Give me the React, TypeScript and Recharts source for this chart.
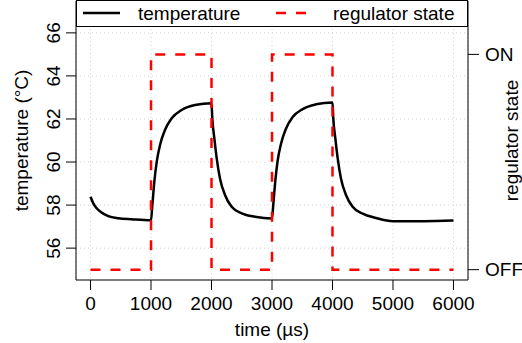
import React from "react";
import {
  ComposedChart,
  Line,
  XAxis,
  YAxis,
  CartesianGrid,
} from "recharts";

const FONT = "'Liberation Sans', Arial, Helvetica, sans-serif";
const FS = 19;

// temperature series (time in µs, temperature in °C)
const tempTimes = [
  0, 46, 102, 185, 294, 460, 680, 1000,
  1022, 1055, 1094, 1149, 1231, 1342, 1507, 1727, 2000,
  2013, 2047, 2086, 2140, 2223, 2333, 2499, 2719, 3000,
  3022, 3055, 3094, 3149, 3231, 3342, 3507, 3727, 4000,
  4013, 4047, 4086, 4140, 4223, 4333, 4499, 4719, 5000, 5500, 6000,
];
const tempValues = [
  58.39, 58.08, 57.85, 57.65, 57.49, 57.39, 57.34, 57.29,
  58.0, 59.09, 60.01, 60.79, 61.49, 62.03, 62.42, 62.65, 62.73,
  62.03, 61.1, 60.17, 59.24, 58.47, 57.92, 57.62, 57.46, 57.38,
  58.05, 59.14, 60.07, 60.85, 61.55, 62.09, 62.46, 62.68, 62.77,
  62.03, 61.1, 60.17, 59.24, 58.47, 57.92, 57.6, 57.4, 57.25, 57.25, 57.28,
];

// regulator state (0 = OFF, 1 = ON), step function
const regTimes = [0, 1000, 2000, 3000, 4000, 6000];
const regStates = [0, 1, 0, 1, 0, 0];

const xTicks = [0, 1000, 2000, 3000, 4000, 5000, 6000];
const yTicks = [56, 58, 60, 62, 64, 66];
const regTicks = [0, 1];
const regLabels = ["OFF", "ON"];

const xDomain: [number, number] = [-240, 6240];
const yDomain: [number, number] = [54.52, 67.48];
// regulator axis aligned so OFF sits at 55 °C and ON at 65 °C
const regDomain: [number, number] = [
  (yDomain[0] - 55) / 10,
  (yDomain[1] - 55) / 10,
];

const tempData = tempTimes.map((t, i) => ({ t, temp: tempValues[i] }));
const regData = regTimes.map((t, i) => ({ t, state: regStates[i] }));

const LeftTick = (props: any) => {
  const { x, y, payload } = props;
  return (
    <text
      x={x}
      y={y}
      transform={`rotate(-90 ${x} ${y})`}
      textAnchor="middle"
      fontSize={FS}
      fontFamily={FONT}
      fill="#000"
    >
      {payload.value}
    </text>
  );
};

const LeftTitle = (props: any) => {
  const vb = props.viewBox || {};
  const x = vb.x + 28;
  const y = vb.y + vb.height / 2;
  return (
    <text
      x={x}
      y={y}
      transform={`rotate(-90 ${x} ${y})`}
      textAnchor="middle"
      fontSize={FS}
      fontFamily={FONT}
      fill="#000"
    >
      temperature (°C)
    </text>
  );
};

const RightTitle = (props: any) => {
  const vb = props.viewBox || {};
  const x = vb.x + vb.width - 4;
  const y = vb.y + vb.height / 2;
  return (
    <text
      x={x}
      y={y}
      transform={`rotate(-90 ${x} ${y})`}
      textAnchor="middle"
      fontSize={FS}
      fontFamily={FONT}
      fill="#000"
    >
      regulator state
    </text>
  );
};

const BottomTitle = (props: any) => {
  const vb = props.viewBox || {};
  return (
    <text
      x={vb.x + vb.width / 2}
      y={vb.y + 56}
      textAnchor="middle"
      fontSize={FS}
      fontFamily={FONT}
      fill="#000"
    >
      time (µs)
    </text>
  );
};

const LegendBox = () => (
  <div
    style={{
      position: "absolute",
      left: 76,
      top: 0,
      width: 392,
      height: 27,
      border: "1px solid #000",
      boxSizing: "border-box",
      background: "#fff",
    }}
  >
    <svg width={390} height={25} style={{ display: "block" }}>
      <line x1={6} x2={43} y1={12} y2={12} stroke="#000" strokeWidth={2.5} />
      <text
        x={61}
        y={12}
        dominantBaseline="central"
        fontSize={FS}
        fontFamily={FONT}
        fill="#000"
      >
        temperature
      </text>
      <line
        x1={199}
        x2={230}
        y1={12}
        y2={12}
        stroke="#ff0000"
        strokeWidth={2.5}
        strokeDasharray="10 10"
      />
      <text
        x={256}
        y={12}
        dominantBaseline="central"
        fontSize={FS}
        fontFamily={FONT}
        fill="#000"
      >
        regulator state
      </text>
    </svg>
  </div>
);

export default function App() {
  return (
    <div
      style={{
        position: "absolute",
        left: 0,
        top: 0,
        width: 522,
        height: 343,
        background: "#fff",
        overflow: "hidden",
      }}
    >
      <ComposedChart
        width={522}
        height={343}
        margin={{ top: 1, right: 0, bottom: 0, left: 0 }}
      >
        <CartesianGrid
          xAxisId="time"
          yAxisId="temp"
          stroke="#d3d3d3"
          strokeDasharray="1 3"
        />
        <XAxis
          xAxisId="time"
          type="number"
          dataKey="t"
          domain={xDomain}
          ticks={xTicks}
          allowDataOverflow
          height={63}
          tickSize={10}
          tickMargin={7}
          interval={0}
          stroke="#000"
          axisLine={{ stroke: "#000" }}
          tickLine={{ stroke: "#000" }}
          tick={{ fill: "#000", fontSize: FS, fontFamily: FONT }}
          label={{ content: BottomTitle }}
        />
        <YAxis
          yAxisId="temp"
          type="number"
          domain={yDomain}
          ticks={yTicks}
          allowDataOverflow
          width={76}
          tickSize={10}
          tickMargin={6}
          interval={0}
          axisLine={{ stroke: "#000" }}
          tickLine={{ stroke: "#000" }}
          tick={<LeftTick />}
          label={{ content: LeftTitle }}
        />
        <YAxis
          yAxisId="reg"
          orientation="right"
          type="number"
          domain={regDomain}
          ticks={regTicks}
          allowDataOverflow
          width={54}
          tickSize={11}
          tickMargin={6}
          interval={0}
          axisLine={{ stroke: "#000" }}
          tickLine={{ stroke: "#000" }}
          tickFormatter={(v: number) => regLabels[v]}
          tick={{ fill: "#000", fontSize: FS, fontFamily: FONT }}
          label={{ content: RightTitle }}
        />
        <Line
          xAxisId="time"
          yAxisId="temp"
          data={tempData}
          dataKey="temp"
          type="monotone"
          stroke="#000"
          strokeWidth={2.5}
          dot={false}
          activeDot={false}
          isAnimationActive={false}
        />
        <Line
          xAxisId="time"
          yAxisId="reg"
          data={regData}
          dataKey="state"
          type="stepAfter"
          stroke="#ff0000"
          strokeWidth={2.5}
          strokeDasharray="10 10"
          dot={false}
          activeDot={false}
          isAnimationActive={false}
        />
      </ComposedChart>
      <LegendBox />
    </div>
  );
}
